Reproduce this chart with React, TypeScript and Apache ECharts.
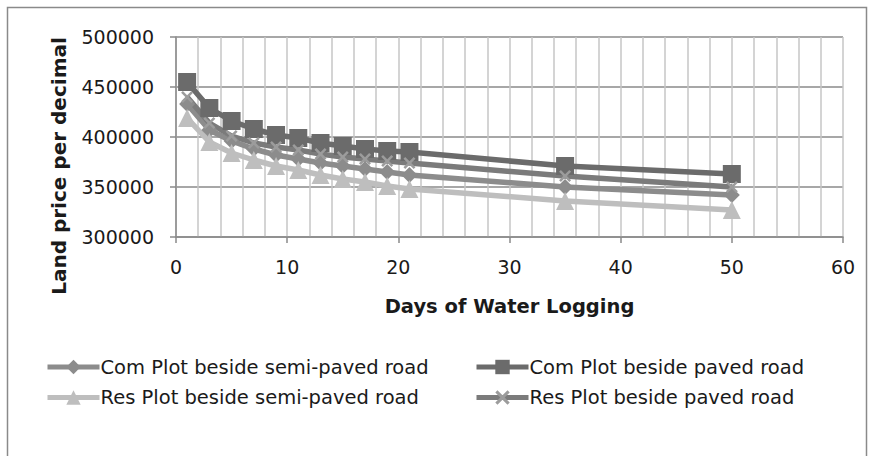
import React, { useEffect, useRef } from "react";
import * as echarts from "echarts";

const days = [1, 3, 5, 7, 9, 11, 13, 15, 17, 19, 21, 35, 50];
const comSemiPaved = [433000, 407000, 396000, 388000, 382000, 378000, 374000, 371000, 368000, 365000, 362000, 350000, 342000];
const comPaved = [455000, 429000, 416000, 408000, 402000, 399000, 394000, 391000, 388000, 386000, 385000, 371000, 363000];
const resSemiPaved = [419000, 395000, 384000, 377000, 371000, 367000, 362000, 358000, 355000, 351000, 348000, 336000, 327000];
const resPaved = [440000, 414000, 401000, 394000, 390000, 387000, 383000, 380000, 378000, 376000, 374000, 361000, 350000];
const seriesNames = [
  "Com Plot beside semi-paved road",
  "Com Plot beside paved road",
  "Res Plot beside semi-paved road",
  "Res Plot beside paved road",
];
const xTicks = { min: 0, max: 60, step: 10 };
const yTicks = { min: 300000, max: 500000, step: 50000 };

const X_SYMBOL =
  "path://M0 1.5 L1.5 0 L5 3.5 L8.5 0 L10 1.5 L6.5 5 L10 8.5 L8.5 10 L5 6.5 L1.5 10 L0 8.5 L3.5 5 Z";

const FONT = "DejaVu Sans";

export default function App() {
  const ref = useRef<HTMLDivElement>(null);
  useEffect(() => {
    if (!ref.current) return;
    const chart = echarts.init(ref.current, null, { renderer: "svg" });
    const pair = (vals: number[]) => days.map((d, i) => [d, vals[i]]);
    const mk = (name: string, vals: number[], color: string, symbol: string, size: number, symColor: string) => ({
      name,
      type: "line",
      data: pair(vals),
      symbol,
      symbolSize: size,
      lineStyle: { color, width: 5.5 },
      itemStyle: { color: symColor },
      color,
      emphasis: { disabled: true },
    });
    const legendCommon = {
      orient: "vertical",
      top: 352,
      itemWidth: 52,
      itemHeight: 18,
      itemGap: 10.5,
      lineStyle: { width: 5 },
      textStyle: { fontSize: 19.5, color: "#1a1a1a", fontFamily: FONT, padding: [0, 0, 0, -4] },
    };
    chart.setOption({
      animation: false,
      backgroundColor: "#ffffff",
      textStyle: { fontFamily: FONT },
      grid: { left: 176, right: 32, top: 37, bottom: 219, containLabel: false, outerBoundsMode: "none" },
      xAxis: {
        type: "value",
        min: xTicks.min,
        max: xTicks.max,
        interval: xTicks.step,
        name: "Days of Water Logging",
        nameLocation: "middle",
        nameGap: 59,
        nameTextStyle: { fontFamily: FONT, fontWeight: "bold", fontSize: 19.5, color: "#1a1a1a" },
        axisLine: { show: true, lineStyle: { color: "#8a8a8a", width: 1.5 } },
        axisTick: { show: true, length: 6, lineStyle: { color: "#8a8a8a", width: 1.5 } },
        axisLabel: { fontSize: 19, color: "#1a1a1a", margin: 20, fontFamily: FONT },
        splitLine: { show: true, lineStyle: { color: "#c6c6c6", width: 1.5 } },
        minorTick: { show: false, splitNumber: 5 },
        minorSplitLine: { show: true, lineStyle: { color: "#c6c6c6", width: 1.5 } },
      },
      yAxis: {
        type: "value",
        min: yTicks.min,
        max: yTicks.max,
        interval: yTicks.step,
        axisLine: { show: true, lineStyle: { color: "#8a8a8a", width: 1.5 } },
        axisTick: { show: true, length: 6, lineStyle: { color: "#8a8a8a", width: 1.5 } },
        axisLabel: {
          fontSize: 19,
          color: "#1a1a1a",
          margin: 22,
          fontFamily: FONT,
          formatter: (v: number) => String(v),
        },
        splitLine: { show: true, lineStyle: { color: "#8a8a8a", width: 1.5 } },
      },
      legend: [
        { ...legendCommon, data: [seriesNames[0], seriesNames[2]], left: 40 },
        { ...legendCommon, data: [seriesNames[1], seriesNames[3]], left: 469 },
      ],
      graphic: [
        {
          type: "rect",
          shape: { x: 7.5, y: 7.5, width: 859, height: 470 },
          style: { fill: "none", stroke: "#8a8a8a", lineWidth: 1.5 },
          silent: true,
        },
        {
          type: "text",
          x: 59,
          y: 166,
          rotation: Math.PI / 2,
          style: {
            text: "Land price per decimal",
            fontFamily: FONT,
            fontWeight: "bold",
            fontSize: 20,
            fill: "#1a1a1a",
            align: "center",
            verticalAlign: "middle",
          },
        },
      ],
      series: [
        mk(seriesNames[0], comSemiPaved, "#8c8c8c", "diamond", 16, "#8c8c8c"),
        mk(seriesNames[1], comPaved, "#6b6b6b", "rect", 18, "#6b6b6b"),
        mk(seriesNames[2], resSemiPaved, "#bebebe", "triangle", 18, "#bebebe"),
        mk(seriesNames[3], resPaved, "#7b7b7b", X_SYMBOL, 12, "#9c9c9c"),
      ],
    });
    return () => chart.dispose();
  }, []);
  return (
    <div
      ref={ref}
      style={{ position: "absolute", left: 0, top: 0, width: 875, height: 456 }}
    />
  );
}
